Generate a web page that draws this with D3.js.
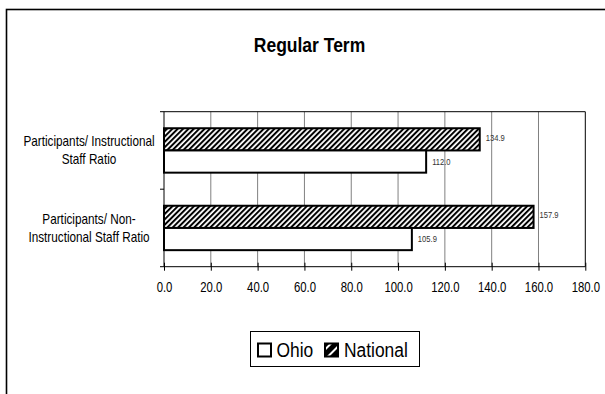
<!DOCTYPE html>
<html>
<head>
<meta charset="utf-8">
<script src="https://cdn.jsdelivr.net/npm/d3@7"></script>
<style>
  body { margin: 0; background: #fff; }
  svg { display: block; }
  text { font-family: "Liberation Sans", Arial, sans-serif; fill: #000; }
</style>
</head>
<body>
<div id="chart"></div>
<script>
const categories = ["Participants/ Instructional Staff Ratio", "Participants/ Non-Instructional Staff Ratio"];
const categoryLines = [["Participants/ Instructional", "Staff Ratio"], ["Participants/ Non-", "Instructional Staff Ratio"]];
const seriesNames = ["National", "Ohio"];
const ohio = [112.0, 105.9];
const national = [134.9, 157.9];
const xTicks = [0, 20, 40, 60, 80, 100, 120, 140, 160, 180];

const width = 605, height = 394;
const plotLeft = 164, plotRight = 585.3, plotTop = 111.7, plotBottom = 266.7;

const svg = d3.select("#chart").append("svg")
    .attr("width", width)
    .attr("height", height);

// no narrow font installed, so squeeze Liberation Sans sideways
function narrowText(parent, px, py, str, size, k) {
    return parent.append("text")
        .attr("transform", "translate(" + px + "," + py + ") scale(" + k + ",1)")
        .style("font-size", size + "px")
        .text(str);
}

const defs = svg.append("defs");
defs.append("pattern")
    .attr("id", "hatch")
    .attr("patternUnits", "userSpaceOnUse")
    .attr("width", 3.8).attr("height", 3.8)
    .attr("patternTransform", "rotate(45)")
    .call(p => {
        p.append("rect").attr("width", 3.8).attr("height", 3.8).attr("fill", "#fff");
        p.append("rect").attr("width", 2).attr("height", 3.8).attr("fill", "#000");
    });
defs.append("pattern")
    .attr("id", "hatchBig")
    .attr("patternUnits", "userSpaceOnUse")
    .attr("width", 7).attr("height", 7)
    .attr("patternTransform", "rotate(45)")
    .call(p => {
        p.append("rect").attr("width", 7).attr("height", 7).attr("fill", "#000");
        p.append("rect").attr("width", 2).attr("height", 7).attr("fill", "#fff");
    });

// outer chart frame (runs off the page right and bottom)
svg.append("rect")
    .attr("x", 6.5).attr("y", 9.5)
    .attr("width", 700).attr("height", 500)
    .attr("fill", "none")
    .attr("stroke", "#000")
    .attr("stroke-width", 1.6);

narrowText(svg, 309.5, 51.7, "Regular Term", 20, 0.875)
    .attr("text-anchor", "middle")
    .style("font-weight", "bold");

const x = d3.scaleLinear().domain([0, 180]).range([plotLeft, plotRight]);
const y = d3.scaleBand().domain(categories).range([plotTop, plotBottom]);
const ySub = d3.scaleBand().domain(seriesNames).range([0, y.bandwidth()]).paddingOuter(0.745).paddingInner(0);

// gridlines
svg.append("g").selectAll("line")
    .data(xTicks.slice(1))
    .enter().append("line")
    .attr("x1", d => x(d)).attr("x2", d => x(d))
    .attr("y1", plotTop).attr("y2", plotBottom)
    .attr("stroke", d => d === 180 ? "#000" : "#808080")
    .attr("stroke-width", 1);

svg.append("line")
    .attr("x1", plotLeft).attr("x2", plotRight)
    .attr("y1", plotTop).attr("y2", plotTop)
    .attr("stroke", "#000");

const xAxis = d3.axisBottom(x).tickValues(xTicks).tickFormat(d3.format(".1f")).tickSize(4).tickPadding(11);
const gx = svg.append("g")
    .attr("transform", "translate(0," + plotBottom + ")")
    .call(xAxis);
gx.select(".domain").attr("d", "M" + (plotLeft - 4) + ",0H" + plotRight);
gx.selectAll(".tick line").attr("y1", -4).attr("y2", 4).attr("stroke", "#000");
gx.selectAll("text")
    .style("font-size", "14px")
    .style("font-family", "'Liberation Sans', Arial, sans-serif")
    .attr("fill", "#000")
    .attr("transform", "scale(0.81,1)");

// category axis
const gy = svg.append("g");
gy.append("line")
    .attr("x1", plotLeft).attr("x2", plotLeft)
    .attr("y1", plotTop).attr("y2", plotBottom)
    .attr("stroke", "#000");
gy.selectAll(".cat-tick")
    .data(categories)
    .enter().append("line")
    .attr("class", "cat-tick")
    .attr("x1", plotLeft - 4).attr("x2", plotLeft)
    .attr("y1", d => y(d)).attr("y2", d => y(d))
    .attr("stroke", "#000");

categories.forEach((c, i) => {
    const cy = y(c) + y.bandwidth() / 2;
    const t = narrowText(gy, 89, 0, null, 14, 0.84).attr("text-anchor", "middle");
    t.selectAll("tspan")
        .data(categoryLines[i])
        .enter().append("tspan")
        .attr("x", 0)
        .attr("y", (s, j) => cy - 4 + j * 18)
        .text(s => s);
});

// bars
const rows = categories.map((c, i) => ({ cat: c, values: [
    { series: "National", value: national[i] },
    { series: "Ohio", value: ohio[i] }
] }));

const groups = svg.selectAll(".grp")
    .data(rows)
    .enter().append("g")
    .attr("class", "grp")
    .attr("transform", d => "translate(0," + y(d.cat) + ")");

groups.selectAll("rect")
    .data(d => d.values)
    .enter().append("rect")
    .attr("x", x(0))
    .attr("y", d => ySub(d.series))
    .attr("width", d => x(d.value) - x(0))
    .attr("height", ySub.bandwidth())
    .attr("fill", d => d.series === "National" ? "url(#hatch)" : "#fff")
    .attr("stroke", "#000")
    .attr("stroke-width", 2);

groups.each(function(row) {
    const g = d3.select(this);
    row.values.forEach(d => {
        const cy = ySub(d.series) + ySub.bandwidth() / 2 + (d.series === "National" ? -2 : 0);
        narrowText(g, x(d.value) + 6, cy, d.value.toFixed(1), 9.5, 0.8)
            .attr("dy", "0.35em")
            .style("fill", "#333");
    });
});

// legend
const legend = svg.append("g");
legend.append("rect")
    .attr("x", 250.5).attr("y", 331.5)
    .attr("width", 169).attr("height", 35)
    .attr("fill", "#fff")
    .attr("stroke", "#000");
const legendItems = [
    { name: "Ohio", fill: "#fff", sx: 258, tx: 276.5 },
    { name: "National", fill: "url(#hatchBig)", sx: 325, tx: 344 }
];
legendItems.forEach(it => {
    legend.append("rect")
        .attr("x", it.sx).attr("y", 343.5)
        .attr("width", 13).attr("height", 13)
        .attr("fill", it.fill)
        .attr("stroke", "#000")
        .attr("stroke-width", 2);
    narrowText(legend, it.tx, 356.7, it.name, 20, 0.87);
});
</script>
</body>
</html>
